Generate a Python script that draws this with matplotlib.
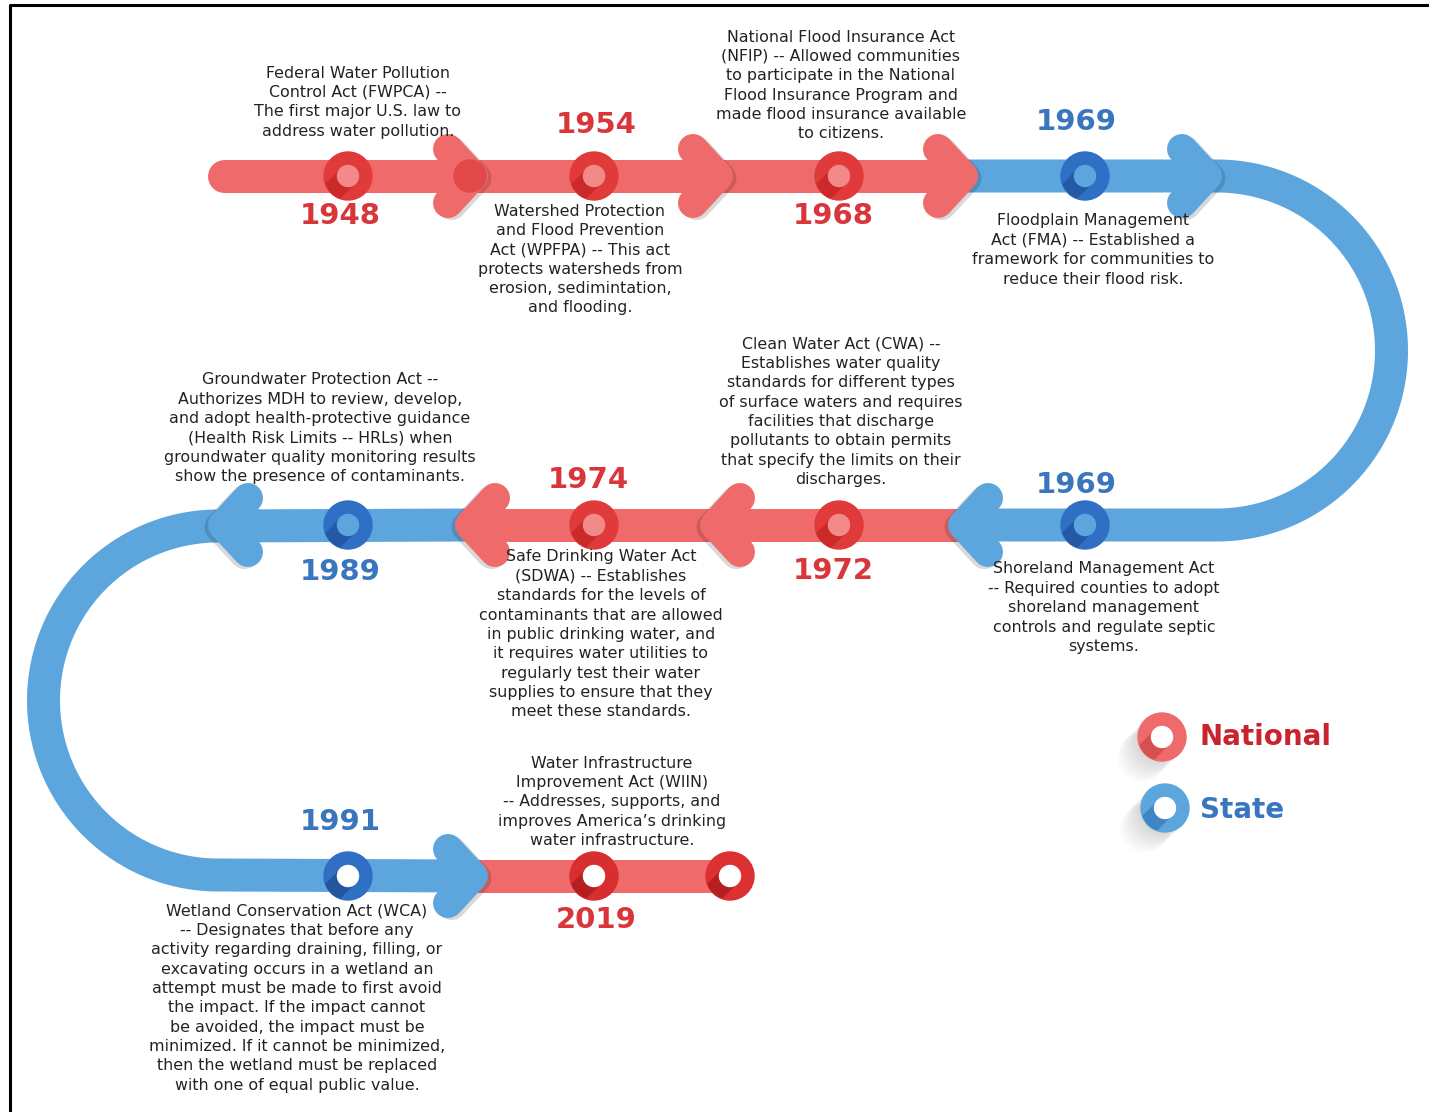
import matplotlib.pyplot as plt
import numpy as np
from matplotlib.patches import Circle, Polygon
import matplotlib.patheffects as pe

# ---- data -------------------------------------------------------------
years = ["1948", "1954", "1968", "1969", "1969", "1972", "1974", "1989", "1991", "2019"]
kinds = ["National", "National", "National", "State", "State",
         "National", "National", "State", "State", "National"]
descriptions = [
    "Federal Water Pollution\nControl Act (FWPCA) --\nThe first major U.S. law to\naddress water pollution.",
    "Watershed Protection\nand Flood Prevention\nAct (WPFPA) -- This act\nprotects watersheds from\nerosion, sedimintation,\nand flooding.",
    "National Flood Insurance Act\n(NFIP) -- Allowed communities\nto participate in the National\nFlood Insurance Program and\nmade flood insurance available\nto citizens.",
    "Floodplain Management\nAct (FMA) -- Established a\nframework for communities to\nreduce their flood risk.",
    "Shoreland Management Act\n-- Required counties to adopt\nshoreland management\ncontrols and regulate septic\nsystems.",
    "Clean Water Act (CWA) --\nEstablishes water quality\nstandards for different types\nof surface waters and requires\nfacilities that discharge\npollutants to obtain permits\nthat specify the limits on their\ndischarges.",
    "Safe Drinking Water Act\n(SDWA) -- Establishes\nstandards for the levels of\ncontaminants that are allowed\nin public drinking water, and\nit requires water utilities to\nregularly test their water\nsupplies to ensure that they\nmeet these standards.",
    "Groundwater Protection Act --\nAuthorizes MDH to review, develop,\nand adopt health-protective guidance\n(Health Risk Limits -- HRLs) when\ngroundwater quality monitoring results\nshow the presence of contaminants.",
    "Wetland Conservation Act (WCA)\n-- Designates that before any\nactivity regarding draining, filling, or\nexcavating occurs in a wetland an\nattempt must be made to first avoid\nthe impact. If the impact cannot\nbe avoided, the impact must be\nminimized. If it cannot be minimized,\nthen the wetland must be replaced\nwith one of equal public value.",
    "Water Infrastructure\nImprovement Act (WIIN)\n-- Addresses, supports, and\nimproves America\u2019s drinking\nwater infrastructure.",
]

# ---- layout (pixel coordinates, y downwards) -------------------------
marker_xy = [(348, 176), (594, 176), (839, 176), (1085, 176), (1085, 525),
             (839, 525), (594, 525), (348, 525), (348, 876), (594, 876)]
year_xy = [(340, 216), (596, 125), (833, 216), (1076, 122), (1076, 485),
           (833, 571), (588, 480), (340, 572), (340, 822), (596, 920)]
desc_xy = [(358, 73), (580, 211), (841, 37), (1093, 221), (1104, 569),
           (841, 344), (601, 557), (320, 380), (297, 911), (612, 763)]

RED = "#ef6b6b"
RED_DARK = "#e03a3a"
RED_TXT = "#d8363a"
BLUE = "#5ca6dd"
BLUE_DARK = "#2f6fc4"
BLUE_TXT = "#3a76bd"
TXT = "#222222"
ytxt = {"National": RED_TXT, "State": BLUE_TXT}

W, H = 1429, 1112
PT = 0.72  # px -> pt at dpi 100

fig = plt.figure(figsize=(W / 100, H / 100), dpi=100)
ax = fig.add_axes([0, 0, 1, 1])
ax.set_xlim(0, W)
ax.set_ylim(H, 0)
ax.axis("off")

# frame
ax.plot([10.5, 10.5, W], [H, 5, 5], color="black", lw=2.2, solid_capstyle="butt")

BAND_W = 33 * PT
R_ARC = 174.5


def arc(cx, cy, t0, t1, n=120):
    t = np.linspace(t0, t1, n)
    return cx + R_ARC * np.cos(t), cy + R_ARC * np.sin(t)


def path(xs, ys, color, cap="butt"):
    ax.plot(xs, ys, color=color, lw=BAND_W, solid_capstyle=cap,
            solid_joinstyle="round", zorder=1)


# bands
path([224, 963], [176, 176], RED, cap="round")
ax_, ay_ = arc(1217, 350.5, -np.pi / 2, np.pi / 2)
path(np.r_[963, ax_, 963], np.r_[176, ay_, 525], BLUE)
path([963, 470], [525, 525], RED)
bx_, by_ = arc(218, 700.5, -np.pi / 2, -1.5 * np.pi)
path(np.r_[470, bx_, 473], np.r_[525, by_, 876], BLUE)
path([473, 735], [876, 876], RED)

# chevrons
chevrons = [(488, 176, 1, RED), (733, 176, 1, RED), (978, 176, 1, RED),
            (1222, 176, 1, BLUE), (948, 525, -1, BLUE), (700, 525, -1, RED),
            (455, 525, -1, RED), (208, 525, -1, BLUE), (488, 876, 1, BLUE)]
for tx, ty, d, c in chevrons:
    vx = tx - d * 15
    xs = [vx - d * 25, vx, vx - d * 25]
    ys = [ty - 27, ty, ty + 27]
    ax.plot(xs, ys, color=c, lw=30 * PT, solid_capstyle="round",
            solid_joinstyle="round", zorder=2,
            path_effects=[pe.SimpleLineShadow(offset=(2.5 * d, -1.5),
                                              shadow_color="black", alpha=0.15),
                          pe.Normal()])
    ax.plot([vx - d * 30, vx], [ty, ty], color=c, lw=BAND_W,
            solid_capstyle="butt", zorder=2)

ax.add_patch(Circle((470, 176), 16, color="#e24848", zorder=2.5))


def ring_marker(x, y, outer, dark, hole, r_out=24, r_in=10.5, z=3, halo=False):
    if halo:
        for k in range(1, 14):
            ax.add_patch(Circle((x - 1.6 * k, y + 1.6 * k), r_out, color="black",
                                alpha=0.012, lw=0, zorder=z - 0.1))
    o = Circle((x, y), r_out, color=outer, zorder=z)
    ax.add_patch(o)
    dv = np.array([-0.707, 0.707])
    nv = np.array([0.707, 0.707])
    c = np.array([x, y])
    L = 30
    pts = [c + r_in * nv, c + r_in * nv + L * dv, c - r_in * nv + L * dv, c - r_in * nv]
    sh = Polygon(pts, closed=True, color=dark, lw=0, zorder=z + 0.1)
    ax.add_patch(sh)
    sh.set_clip_path(o)
    ax.add_patch(Circle((x, y), r_in, color=hole, zorder=z + 0.2))


# event markers
for (x, y), k in zip(marker_xy, kinds):
    if y == 876:
        ring_marker(x, y, "#d92e30" if k == "National" else BLUE_DARK,
                    "#b51f22" if k == "National" else "#23569d", "white")
    elif k == "National":
        ring_marker(x, y, RED_DARK, "#cc2a2a", "#f28a8a")
    else:
        ring_marker(x, y, BLUE_DARK, "#2459a6", BLUE)
# end cap
ring_marker(730, 876, "#dc3033", "#b51f22", "white")

# year labels
for yr, (x, y), k in zip(years, year_xy, kinds):
    ax.text(x, y, yr, ha="center", va="center", fontsize=21,
            fontweight="bold", color=ytxt[k], zorder=5)

# descriptions, one line at a time
LINE = 19.35
for desc, (x, y) in zip(descriptions, desc_xy):
    for i, line in enumerate(desc.split("\n")):
        ax.text(x, y + i * LINE, line, ha="center", va="center",
                fontsize=11.4, color=TXT, zorder=5)

# legend
ring_marker(1162, 737, RED, "#d65050", "white", halo=True)
ring_marker(1165, 808, BLUE, "#3f85c4", "white", halo=True)
ax.text(1200, 737, "National", ha="left", va="center", fontsize=20,
        fontweight="bold", color="#c9232d")
ax.text(1200, 810, "State", ha="left", va="center", fontsize=20,
        fontweight="bold", color=BLUE_TXT)

fig.savefig("out.png", dpi=100)
